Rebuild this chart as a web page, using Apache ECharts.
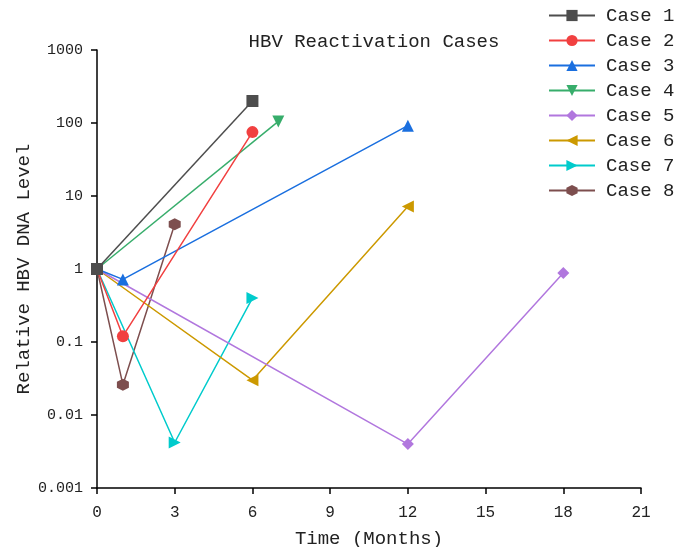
<!DOCTYPE html>
<html>
<head>
<meta charset="utf-8">
<script src="https://cdn.jsdelivr.net/npm/echarts@6/dist/echarts.min.js"></script>
<style>
	html, body { margin: 0; padding: 0; background: #fff; }
	#chart { width: 676px; height: 547px; }
</style>
</head>
<body>
<div id="chart"></div>
<script>
// 数据
var caseNames = ['Case 1', 'Case 2', 'Case 3', 'Case 4', 'Case 5', 'Case 6', 'Case 7', 'Case 8'];
var case1 = [[0, 1], [6, 200]];
var case2 = [[0, 1], [1, 0.12], [6, 75]];
var case3 = [[0, 1], [1, 0.72], [12, 92]];
var case4 = [[0, 1], [7, 105]];
var case5 = [[0, 1], [12, 0.004], [18, 0.88]];
var case6 = [[0, 1], [6, 0.03], [12, 7.2]];
var case7 = [[0, 1], [3, 0.0042], [6, 0.4]];
var case8 = [[0, 1], [1, 0.026], [3, 4.1]];
var yTicks = [0.001, 0.01, 0.1, 1, 10, 100, 1000];

var colors = ['#4d4d4d', '#f14040', '#1a6fdf', '#37ad6b', '#b177de', '#cc9900', '#00cbcc', '#7d4e4e'];
var downTri = 'path://M0,0 L10,0 L5,9 Z';
var leftTri = 'path://M9,0 L9,10 L0,5 Z';
var rightTri = 'path://M0,0 L0,10 L9,5 Z';
var hexagon = 'path://M5,0 L9.33,2.5 L9.33,7.5 L5,10 L0.67,7.5 L0.67,2.5 Z';
var symbols = ['rect', 'circle', 'triangle', downTri, 'diamond', leftTri, rightTri, hexagon];
var allData = [case1, case2, case3, case4, case5, case6, case7, case8];

var fontName = '"Liberation Mono", "DejaVu Sans Mono", monospace';

var chart = echarts.init(document.getElementById('chart'));

var series = [];
for (var i = 0; i < allData.length; i++) {
	series.push({
		name: caseNames[i],
		type: 'line',
		data: allData[i],
		symbol: symbols[i],
		symbolSize: 12,
		showAllSymbol: true,
		color: colors[i],
		lineStyle: { width: 1.5, color: colors[i] },
		itemStyle: { color: colors[i] },
		z: 10 - i
	});
}

var option = {
	animation: false,
	title: {
		text: 'HBV Reactivation Cases',
		left: 369,
		textAlign: 'center',
		top: 27,
		textStyle: { fontFamily: fontName, fontWeight: 'normal', fontSize: 19, color: '#222' }
	},
	legend: {
		orient: 'vertical',
		left: 548,
		top: 6,
		padding: 0,
		itemWidth: 46,
		itemHeight: 14,
		itemGap: 6,
		data: caseNames,
		textStyle: { fontFamily: fontName, fontSize: 19, color: '#222', padding: [0, 0, 0, 6] }
	},
	grid: { left: 97, right: 35, top: 50, bottom: 59, containLabel: false, outerBoundsMode: 'none' },
	xAxis: {
		type: 'value',
		min: 0,
		max: 21,
		interval: 3,
		name: 'Time (Months)',
		nameLocation: 'middle',
		nameGap: 41,
		nameMoveOverlap: false,
		nameTextStyle: { fontFamily: fontName, fontSize: 19, color: '#222' },
		axisLine: { lineStyle: { color: '#000', width: 1.5 } },
		axisTick: { length: 6, lineStyle: { color: '#000', width: 1.5 } },
		axisLabel: { fontFamily: fontName, fontSize: 16, color: '#222', margin: 17 },
		splitLine: { show: false }
	},
	yAxis: {
		type: 'log',
		logBase: 10,
		min: yTicks[0],
		max: yTicks[yTicks.length - 1],
		name: 'Relative HBV DNA Level',
		nameLocation: 'middle',
		nameGap: 64,
		nameMoveOverlap: false,
		nameTextStyle: { fontFamily: fontName, fontSize: 19, color: '#222' },
		axisLine: { show: true, lineStyle: { color: '#000', width: 1.5 } },
		axisTick: { show: true, length: 6, lineStyle: { color: '#000', width: 1.5 } },
		axisLabel: {
			fontFamily: fontName, fontSize: 15, color: '#222', margin: 14,
			formatter: function(v) {
				for (var k = 0; k < yTicks.length; k++) {
					if (Math.abs(Math.log10(v) - Math.log10(yTicks[k])) < 1e-6) return String(yTicks[k]);
				}
				return '';
			}
		},
		splitLine: { show: false }
	},
	series: series
};

chart.setOption(option);
</script>
</body>
</html>
